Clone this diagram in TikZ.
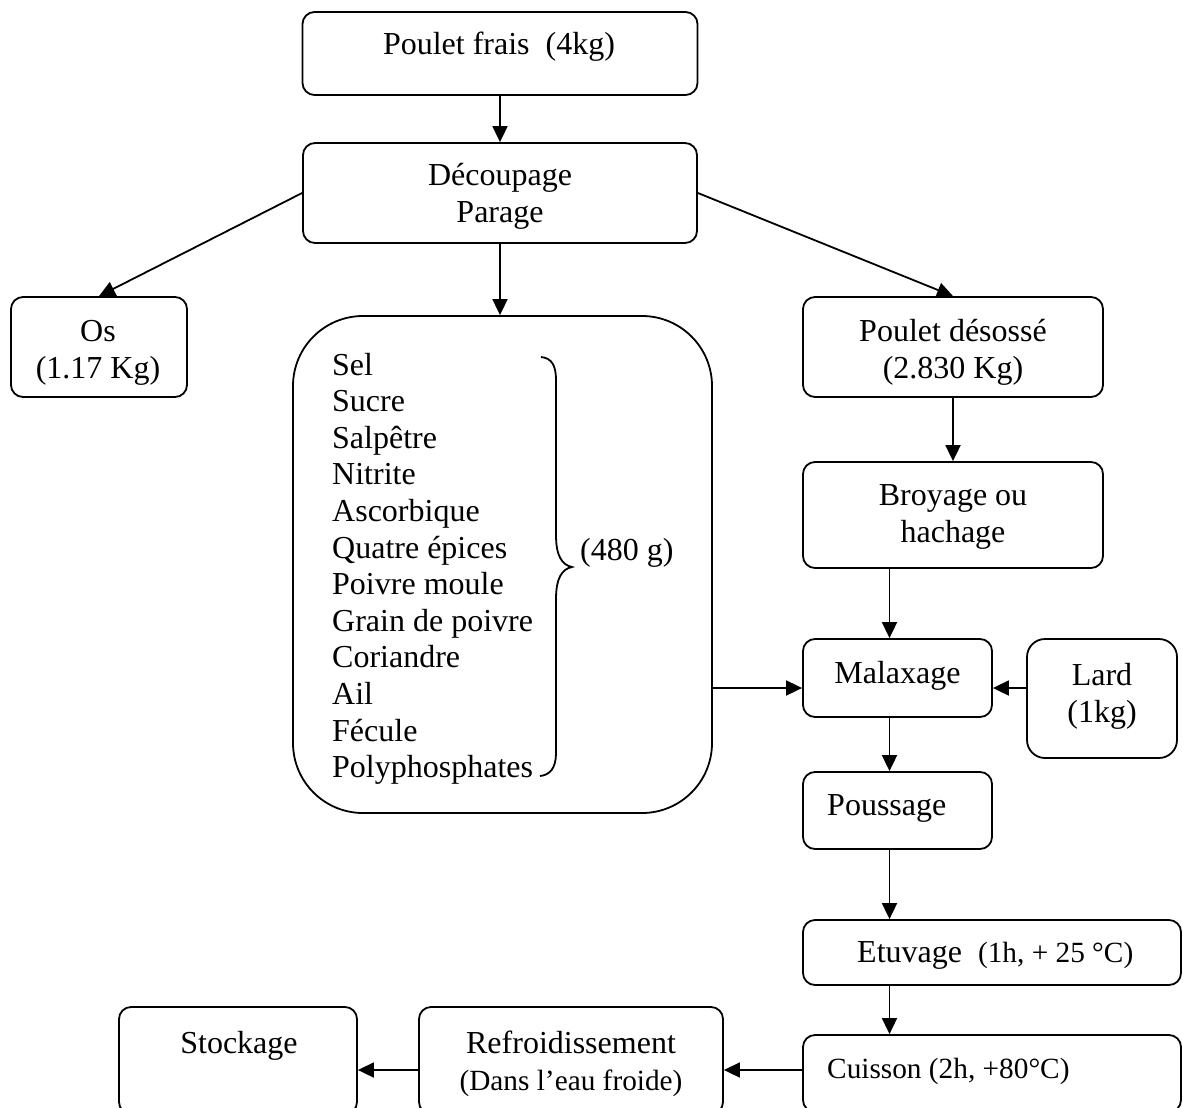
\documentclass[tikz,border=0pt]{standalone}
\usepackage{fontspec}
\setmainfont{Liberation Serif}
\usetikzlibrary{arrows.meta}
\newcommand{\bigtext}{\fontsize{32}{36.6}\selectfont}
\newcommand{\smalltext}{\fontsize{29.3}{33.7}\selectfont}
\begin{document}
\begin{tikzpicture}[x=1pt,y=-1pt,
  box/.style={draw, line width=1.8pt, rounded corners=12pt, inner sep=0pt},
  arr/.style={line width=1.8pt, -{Triangle[length=16pt,width=15pt]}},
  % multi-line labels: the base anchor sits on the last line
  txt/.style={inner sep=0pt, anchor=base, font=\bigtext, align=center},
  ltxt/.style={inner sep=0pt, anchor=base west, font=\bigtext, align=left}]
\useasboundingbox (0,0) rectangle (1183,1108);
\clip (0,0) rectangle (1183,1108);

% process boxes
\node[box, minimum width=395pt, minimum height=83pt]  (frais)   at (500,53.5) {};
\node[box, minimum width=394pt, minimum height=100pt] (decoupe) at (500,193) {};
\node[box, minimum width=176pt, minimum height=100pt] (os)      at (99,347) {};
\node[box, rounded corners=70pt, minimum width=419pt, minimum height=497pt] (ingr) at (502.5,564.5) {};
\node[box, minimum width=300pt, minimum height=100pt] (desosse) at (953,347) {};
\node[box, minimum width=300pt, minimum height=106pt] (broyage) at (953,515) {};
\node[box, minimum width=189pt, minimum height=78pt]  (malax)   at (897.5,678) {};
\node[box, rounded corners=18pt, minimum width=150pt, minimum height=119pt] (lard) at (1102,698.5) {};
\node[box, minimum width=189pt, minimum height=77pt]  (pouss)   at (897.5,810.5) {};
\node[box, minimum width=378pt, minimum height=65pt]  (etuv)    at (992,952.5) {};
\node[box, minimum width=378pt, minimum height=77pt]  (cuis)    at (992,1073.5) {};
\node[box, minimum width=304pt, minimum height=107pt] (refr)    at (571,1060.5) {};
\node[box, minimum width=238pt, minimum height=107pt] (stock)   at (238,1060.5) {};

% labels
\node[txt] (tfrais) at (499,55) {Poulet frais\ \ (4kg)};
\node[txt] (tdecoupe) at (500,222) {Découpage\\Parage};
\node[txt] (tos) at (98,378) {Os\\(1.17 Kg)};
\node[ltxt] (tingr) at (332,777.6) {Sel\\Sucre\\Salpêtre\\Nitrite\\Ascorbique\\Quatre épices\\Poivre moule\\Grain de poivre\\Coriandre\\Ail\\Fécule\\Polyphosphates};
\node[ltxt] (tpoids) at (580,560) {(480 g)};
\node[txt] (tdesosse) at (953,378) {Poulet désossé\\(2.830 Kg)};
\node[txt] (tbroyage) at (953,542) {Broyage ou\\hachage};
\node[txt] (tmalax) at (897.5,683) {Malaxage};
\node[txt] (tlard) at (1102,722) {Lard\\(1kg)};
\node[ltxt] (tpouss) at (827,815) {Poussage};
\node[ltxt] (tetuv) at (857,962) {Etuvage\ \ {\smalltext (1h, + 25 °C)}};
\node[ltxt, font=\smalltext] (tcuis) at (827,1078) {Cuisson (2h, +80°C)};
\node[txt] (trefr) at (571,1090) {Refroidissement\\{\smalltext (Dans l’eau froide)}};
\node[txt] (tstock) at (239,1053) {Stockage};

% brace grouping the ingredients
\draw[line width=1.8pt] (541,357) .. controls (552,358) and (556,366) .. (556,380)
  -- (556,535) .. controls (556,556) and (562,565) .. (572,567)
  .. controls (562,569) and (556,578) .. (556,599)
  -- (556,753) .. controls (556,768) and (550,775) .. (540,776);

% guide lines for the connectors
\coordinate (pcol) at (889.5,0);
\coordinate (mrow) at (0,688);
\coordinate (brow) at (0,1070);

% connectors
\draw[arr] (frais.south) -- (decoupe.north);
\draw[arr] (decoupe.west) -- (os.north);
\draw[arr] (decoupe.east) -- (desosse.north);
\draw[arr] (decoupe.south) -- (decoupe.south |- ingr.north);
\draw[arr] (desosse.south) -- (broyage.north);
\draw[arr] (broyage.south -| pcol) -- (malax.north -| pcol);
\draw[arr] (ingr.east |- mrow) -- (malax.west |- mrow);
\draw[arr] (lard.west |- mrow) -- (malax.east |- mrow);
\draw[arr] (malax.south -| pcol) -- (pouss.north -| pcol);
\draw[arr] (pouss.south -| pcol) -- (etuv.north -| pcol);
\draw[arr] (etuv.south -| pcol) -- (cuis.north -| pcol);
\draw[arr] (cuis.west |- brow) -- (refr.east |- brow);
\draw[arr] (refr.west |- brow) -- (stock.east |- brow);
\end{tikzpicture}
\end{document}
